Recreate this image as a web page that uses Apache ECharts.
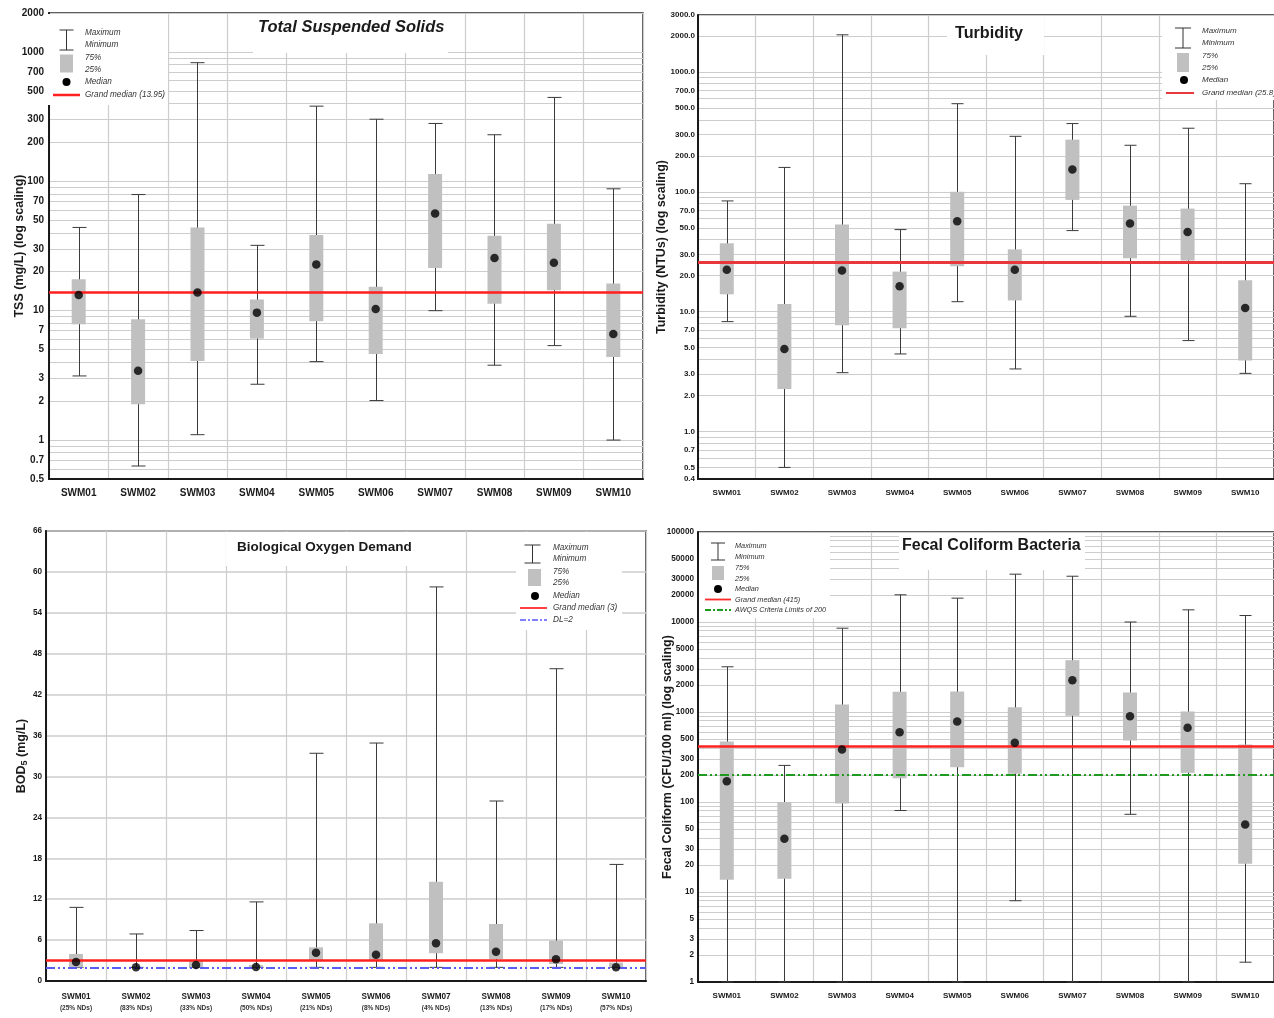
<!DOCTYPE html>
<html><head><meta charset="utf-8">
<script src="https://cdn.jsdelivr.net/npm/echarts@6/dist/echarts.min.js"></script>
<style>html,body{margin:0;padding:0;background:#fff}#c{width:1274px;height:1018px}</style>
</head><body><div id="c"></div>
<script>
// ---------------- DATA ----------------
const stations = ['SWM01','SWM02','SWM03','SWM04','SWM05','SWM06','SWM07','SWM08','SWM09','SWM10'];
const bodNonDetects = ['25%','83%','33%','50%','21%','8%','4%','13%','17%','57%'];

// Total Suspended Solids (mg/L)
const tssMin    = [3.13, 0.63, 1.1, 2.7, 4.04, 2.02, 10, 3.79, 5.37, 1.0];
const tssQ1     = [7.85, 1.89, 4.09, 6.08, 8.3, 4.63, 21.4, 11.3, 14.4, 4.39];
const tssMedian = [13.2, 3.44, 13.8, 9.66, 22.8, 10.3, 56.5, 25.5, 23.5, 6.6];
const tssQ3     = [17.5, 8.6, 44, 12.2, 38.4, 15.3, 114, 38, 47, 16.2];
const tssMax    = [44, 79, 826, 32, 381, 302, 280, 229, 445, 87.5];
const tssGrandMedian = 13.95;
const tssTicks  = [2000,1000,700,500,300,200,100,70,50,30,20,10,7,5,3,2,1,0.7,0.5];

// Turbidity (NTUs)
const turbMin    = [8.25, 0.5, 3.09, 4.43, 12.1, 3.32, 47.5, 9.14, 5.73, 3.05];
const turbQ1     = [13.95, 2.26, 7.69, 7.26, 23.9, 12.4, 85.7, 27.9, 26.7, 3.9];
const turbMedian = [22.4, 4.88, 22, 16.3, 56.8, 22.4, 154, 54.4, 46.3, 10.7];
const turbQ3     = [37.2, 11.6, 53.3, 21.6, 100, 33.1, 273, 76.8, 72.5, 18.3];
const turbMax    = [84, 160, 2050, 48.4, 545, 291, 372, 245, 340, 117];
const turbGrandMedian = 25.8;
const turbTicks  = [3000,2000,1000,700,500,300,200,100,70,50,30,20,10,7,5,3,2,1,0.7,0.5,0.4];

// Biological Oxygen Demand (mg/L)
const bodMin    = [2, 2, 2, 2, 2, 2, 2, 2, 2, 2];
const bodQ1     = [2, 2, 2, 2, 3.08, 3.08, 4.06, 3.23, 2.49, 2];
const bodMedian = [2.8, 2, 2.35, 2.05, 4.15, 3.86, 5.53, 4.3, 3.18, 2.0];
const bodQ3     = [3.96, 2, 3.1, 2.35, 4.94, 8.46, 14.57, 8.36, 5.91, 2.7];
const bodMax    = [10.8, 6.9, 7.4, 11.6, 33.4, 34.9, 57.8, 26.4, 45.8, 17.1];
const bodGrandMedian = 3;
const bodDetectionLimit = 2;

// Fecal Coliform Bacteria (CFU/100 ml)
const fcMin    = [1, 1, 1, 80.4, 1, 8.0, 1, 73, 1, 1.66];
const fcQ1     = [13.7, 14, 96, 184, 244, 206, 907, 482, 211, 20.6];
const fcMedian = [170, 39, 383, 597, 784, 454, 2256, 898, 667, 56.2];
const fcQ3     = [470, 100, 1211, 1676, 1690, 1132, 3765, 1648, 1013, 435];
const fcMax    = [3180, 255, 8530, 20050, 18400, 34000, 32250, 10000, 13650, 11800];
const fcGrandMedian = 415;
const fcCriteria = 200;
const fcTicks  = [100000,50000,30000,20000,10000,5000,3000,2000,1000,500,300,200,100,50,30,20,10,5,3,2,1];

// ---------------- STYLE ----------------
const font = '"Liberation Sans",Arial,sans-serif';
const ink = '#1a1a1a';
const gridGray = '#cdcdcd';
const boxGray = '#c0c0c0';

function gridValues(lo, hi) {
  const out = [];
  for (let e = -2; e <= 6; e++) for (let k = 1; k <= 9; k++) {
    const v = +(k * Math.pow(10, e)).toPrecision(6);
    if (v >= lo - 1e-9 && v <= hi + 1e-9) out.push(v);
  }
  return out;
}

const grids = [
  {left: 49, top: 13, width: 594, height: 466},
  {left: 698, top: 15, width: 582, height: 464},
  {left: 46, top: 531, width: 600, height: 450},
  {left: 698, top: 532, width: 582, height: 450}
].map(g => Object.assign({show: true, borderColor: '#2a2a2a', borderWidth: 1.5, backgroundColor: 'transparent'}, g));

function xAxis(idx, labelCfg) {
  return {
    type: 'category', gridIndex: idx, data: stations, boundaryGap: true,
    axisLine: {show: true, onZero: false, lineStyle: {color: ink, width: 2}},
    axisTick: {show: false},
    splitLine: {show: true, interval: 0, lineStyle: {color: gridGray, width: 1.2}},
    axisLabel: Object.assign({interval: 0, color: ink, fontWeight: 'bold', fontFamily: font}, labelCfg)
  };
}

function logY(idx, lo, hi, labels, fmt, name, nameGap, labelSize, margin) {
  return {
    type: 'log', logBase: 10, gridIndex: idx, min: lo, max: hi,
    name: name, nameLocation: 'middle', nameGap: nameGap, nameRotate: 90, nameMoveOverlap: false,
    nameTextStyle: {fontFamily: font, fontWeight: 'bold', fontSize: 12.5, color: ink},
    axisLine: {show: true, lineStyle: {color: ink, width: 2}},
    axisTick: {show: false, customValues: gridValues(lo, hi)},
    axisLabel: {customValues: labels, formatter: fmt, fontFamily: font, fontSize: labelSize,
      fontWeight: 'bold', color: ink, margin: margin},
    splitLine: {show: true, lineStyle: {color: gridGray, width: 1.2}},
    minorTick: {show: false}, minorSplitLine: {show: false}
  };
}

function whiskerRender(capW) {
  return function (params, api) {
    const i = api.value(0);
    const lo = api.coord([i, api.value(1)]);
    const hi = api.coord([i, api.value(5)]);
    const x = Math.round(lo[0]) + 0.5;
    const st = {stroke: '#3a3a3a', lineWidth: 1};
    return {type: 'group', children: [
      {type: 'line', shape: {x1: x, y1: hi[1], x2: x, y2: lo[1]}, style: st},
      {type: 'line', shape: {x1: x - capW / 2, y1: hi[1], x2: x + capW / 2, y2: hi[1]}, style: st},
      {type: 'line', shape: {x1: x - capW / 2, y1: lo[1], x2: x + capW / 2, y2: lo[1]}, style: st}
    ]};
  };
}
function boxRender(boxW) {
  return function (params, api) {
    const i = api.value(0);
    const q1 = api.coord([i, api.value(2)]);
    const q3 = api.coord([i, api.value(4)]);
    return {type: 'rect', shape: {x: q1[0] - boxW / 2, y: q3[1], width: boxW, height: Math.max(0, q1[1] - q3[1])},
      style: {fill: boxGray}};
  };
}

function panelSeries(idx, mins, q1s, meds, q3s, maxs, refLines, capW) {
  const rows = stations.map((s, i) => [i, mins[i], q1s[i], meds[i], q3s[i], maxs[i]]);
  return [
    {type: 'custom', name: 'Maximum/Minimum', xAxisIndex: idx, yAxisIndex: idx, z: 3,
      renderItem: whiskerRender(capW), encode: {x: 0, y: [1, 5]}, data: rows, silent: true},
    {type: 'custom', name: '75%/25%', xAxisIndex: idx, yAxisIndex: idx, z: 4,
      renderItem: boxRender(14), encode: {x: 0, y: [2, 4]}, data: rows, silent: true},
    {type: 'line', name: 'reference', xAxisIndex: idx, yAxisIndex: idx, z: 5, data: [],
      markLine: {silent: true, symbol: 'none', animation: false, label: {show: false},
        data: refLines.map(r => ({yAxis: r.value, lineStyle: r.style}))}},
    {type: 'scatter', name: 'Median', xAxisIndex: idx, yAxisIndex: idx, z: 6,
      symbol: 'circle', symbolSize: 8.5, itemStyle: {color: '#000'},
      data: stations.map((s, i) => [i, meds[i]]), silent: true}
  ];
}

const redLine = {color: '#ff1f1f', width: 2.5, type: 'solid'};
const blueDash = {color: '#5a5af5', width: 1.8, type: [9, 3, 2, 3, 2, 3]};
const greenDash = {color: '#1f9a1f', width: 2, type: [9, 3, 2, 3, 2, 3]};

// ---------------- LEGEND / TITLE COVERS (graphics) ----------------
function legend(cfg) {
  const els = [];
  els.push({type: 'rect', z: 1, shape: {x: cfg.box[0], y: cfg.box[1], width: cfg.box[2], height: cfg.box[3]}, style: {fill: '#fff'}});
  const ib = cfg.ibeam; // [cx, y1, y2, halfW]
  const st = {stroke: '#333', lineWidth: 1};
  els.push({type: 'line', z: 10, shape: {x1: ib[0], y1: ib[1], x2: ib[0], y2: ib[2]}, style: st});
  els.push({type: 'line', z: 10, shape: {x1: ib[0] - ib[3], y1: ib[1], x2: ib[0] + ib[3], y2: ib[1]}, style: st});
  els.push({type: 'line', z: 10, shape: {x1: ib[0] - ib[3], y1: ib[2], x2: ib[0] + ib[3], y2: ib[2]}, style: st});
  els.push({type: 'rect', z: 10, shape: {x: cfg.rect[0], y: cfg.rect[1], width: cfg.rect[2], height: cfg.rect[3]}, style: {fill: boxGray}});
  els.push({type: 'circle', z: 10, shape: {cx: cfg.dot[0], cy: cfg.dot[1], r: 4}, style: {fill: '#000'}});
  cfg.lines.forEach(l => els.push({type: 'line', z: 10, shape: {x1: l.x1, y1: l.y, x2: l.x2, y2: l.y},
    style: {stroke: l.color, lineWidth: l.width, lineDash: l.dash || null}}));
  cfg.texts.forEach(t => els.push({type: 'text', z: 10, style: {text: t[0], x: cfg.tx, y: t[1],
    fill: '#333', fontFamily: font, fontStyle: 'italic', fontSize: cfg.fs, verticalAlign: 'middle', align: 'left'}}));
  return els;
}
function cover(x, y, w, h) {
  return {type: 'rect', z: 1, shape: {x: x, y: y, width: w, height: h}, style: {fill: '#fff'}};
}

const graphics = [].concat(
  legend({box: [45, 14, 123, 91], ibeam: [66.5, 30, 50, 7], rect: [60, 54.5, 13, 18], dot: [66.5, 82],
    lines: [{x1: 53, x2: 80, y: 95, color: '#ff1f1f', width: 2.5}], tx: 85, fs: 8.2,
    texts: [['Maximum', 33], ['Minimum', 44.5], ['75%', 57.5], ['25%', 69.5], ['Median', 82], ['Grand median (' + tssGrandMedian + ')', 95]]}),
  legend({box: [1162, 16, 112, 84], ibeam: [1183, 28, 48, 8], rect: [1177, 53, 12, 19], dot: [1184, 80],
    lines: [{x1: 1166, x2: 1194, y: 93, color: '#e8383d', width: 2}], tx: 1202, fs: 8,
    texts: [['Maximum', 31], ['Minimum', 43], ['75%', 56], ['25%', 68], ['Median', 80], ['Grand median (' + turbGrandMedian + ')', 93]]}),
  legend({box: [516, 532, 106, 98], ibeam: [532.5, 545, 563, 8], rect: [528, 569, 13, 17], dot: [535, 596],
    lines: [{x1: 520, x2: 547, y: 608, color: '#ff4040', width: 2},
            {x1: 520, x2: 547, y: 620, color: '#8080ff', width: 2, dash: [6, 2, 2, 2]}], tx: 553, fs: 8.2,
    texts: [['Maximum', 547.5], ['Minimum', 559], ['75%', 572], ['25%', 583], ['Median', 596], ['Grand median (' + bodGrandMedian + ')', 608], ['DL=' + bodDetectionLimit, 620]]}),
  legend({box: [699, 533, 131, 85], ibeam: [718, 543, 560, 7], rect: [712, 566, 12, 14], dot: [718, 589],
    lines: [{x1: 705, x2: 731, y: 599.5, color: '#ff2a2a', width: 1.8},
            {x1: 705, x2: 731, y: 610, color: '#1f9a1f', width: 1.8, dash: [6, 2, 2, 2]}], tx: 735, fs: 7.3,
    texts: [['Maximum', 546], ['Minimum', 556.5], ['75%', 568], ['25%', 579], ['Median', 589], ['Grand median (' + fcGrandMedian + ')', 599.5], ['AWQS Criteria Limits of ' + fcCriteria, 610]]}),
  [cover(253, 14, 195, 39), cover(947, 16, 97, 39), cover(226, 532, 198, 34), cover(899, 533, 186, 37)]
);

// ---------------- OPTION ----------------
const option = {
  animation: false,
  backgroundColor: '#fff',
  title: [
    {text: 'Total Suspended Solids', left: 258, top: 19, padding: 0,
      textStyle: {fontFamily: font, fontSize: 16.5, fontWeight: 'bold', fontStyle: 'italic', color: ink}},
    {text: 'Turbidity', left: 955, top: 26, padding: 0,
      textStyle: {fontFamily: font, fontSize: 16.2, fontWeight: 'bold', color: ink}},
    {text: 'Biological Oxygen Demand', left: 237, top: 540, padding: 0,
      textStyle: {fontFamily: font, fontSize: 13.5, fontWeight: 'bold', color: ink}},
    {text: 'Fecal Coliform Bacteria', left: 902, top: 538, padding: 0,
      textStyle: {fontFamily: font, fontSize: 16, fontWeight: 'bold', color: ink}}
  ],
  grid: grids,
  xAxis: [
    xAxis(0, {fontSize: 10, margin: 9}),
    xAxis(1, {fontSize: 8, margin: 10}),
    xAxis(2, {fontSize: 8, margin: 10,
      formatter: (v, i) => '{a|' + v + '}\n{b|(' + bodNonDetects[i] + ' NDs)}',
      rich: {a: {fontFamily: font, fontSize: 8.2, fontWeight: 'bold', color: ink, lineHeight: 12},
             b: {fontFamily: font, fontSize: 6.5, color: '#333', lineHeight: 10}}}),
    xAxis(3, {fontSize: 8, margin: 10})
  ],
  yAxis: [
    logY(0, 0.5, 2000, tssTicks, v => String(+(+v).toPrecision(6)), 'TSS (mg/L) (log scaling)', 22.5, 10, 5),
    logY(1, 0.4, 3000, turbTicks, v => (+v).toFixed(1), 'Turbidity (NTUs) (log scaling)', 29.5, 8, 3),
    {type: 'value', gridIndex: 2, min: 0, max: 66, interval: 6,
      name: '{m|BOD}{s|5}{m| (mg/L)}', nameLocation: 'middle', nameGap: 16.5, nameRotate: 90, nameMoveOverlap: false,
      nameTextStyle: {rich: {m: {fontFamily: font, fontWeight: 'bold', fontSize: 12.5, color: ink},
                             s: {fontFamily: font, fontWeight: 'bold', fontSize: 9, color: ink, verticalAlign: 'bottom', padding: [7, 0, 0, 0]}}},
      axisLine: {show: true, lineStyle: {color: ink, width: 2}}, axisTick: {show: false},
      axisLabel: {fontFamily: font, fontSize: 8.2, fontWeight: 'bold', color: ink, margin: 4},
      splitLine: {show: true, lineStyle: {color: gridGray, width: 1.5}}},
    logY(3, 1, 100000, fcTicks, v => String(Math.round(v)), 'Fecal Coliform (CFU/100 ml) (log scaling)', 23.5, 8.2, 4)
  ],
  graphic: graphics,
  series: [].concat(
    panelSeries(0, tssMin, tssQ1, tssMedian, tssQ3, tssMax, [{value: tssGrandMedian, style: redLine}], 14),
    panelSeries(1, turbMin, turbQ1, turbMedian, turbQ3, turbMax, [{value: turbGrandMedian, style: {color: '#e8383d', width: 3, type: 'solid'}}], 12),
    panelSeries(2, bodMin, bodQ1, bodMedian, bodQ3, bodMax,
      [{value: bodGrandMedian, style: {color: '#ff2020', width: 2.5, type: 'solid'}}, {value: bodDetectionLimit, style: blueDash}], 14),
    panelSeries(3, fcMin, fcQ1, fcMedian, fcQ3, fcMax,
      [{value: fcGrandMedian, style: {color: '#ff2020', width: 2.5, type: 'solid'}}, {value: fcCriteria, style: greenDash}], 12)
  )
};

const chart = echarts.init(document.getElementById('c'), null, {renderer: 'canvas'});
chart.setOption(option);
</script>
</body></html>
